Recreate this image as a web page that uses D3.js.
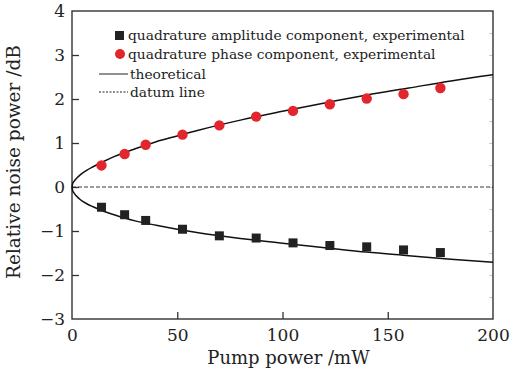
<!DOCTYPE html>
<html>
<head>
<meta charset="utf-8">
<script src="https://cdn.jsdelivr.net/npm/d3@7"></script>
<style>
  body { margin: 0; background: #fff; }
  text { font-family: "DejaVu Serif", serif; fill: #222; }
</style>
</head>
<body>
<div id="chart"></div>
<script>
// measured points
var pump = [14, 25, 35, 52.5, 70, 87.5, 105, 122.5, 140, 157.5, 175]
var amplitude = [-0.46, -0.63, -0.76, -0.96, -1.11, -1.16, -1.27, -1.33, -1.36, -1.43, -1.49]
var phase = [0.49, 0.75, 0.96, 1.19, 1.40, 1.60, 1.73, 1.88, 2.01, 2.11, 2.25]

// theoretical curves
var theoryX = [0, 0.3, 1, 2, 4, 7, 10, 15, 20, 30, 40, 50, 60, 80, 100, 120, 140, 160, 180, 200]
var theoryPhase = [0, 0.07, 0.13, 0.19, 0.28, 0.38, 0.46, 0.58, 0.69, 0.87, 1.03, 1.16, 1.29, 1.52, 1.72, 1.91, 2.09, 2.25, 2.41, 2.55]
var theoryAmp = [0, -0.08, -0.14, -0.2, -0.29, -0.38, -0.45, -0.55, -0.63, -0.77, -0.87, -0.96, -1.04, -1.17, -1.28, -1.38, -1.48, -1.56, -1.64, -1.71]

var xTicks = [0, 50, 100, 150, 200]
var yTicks = [-3, -2, -1, 0, 1, 2, 3, 4]

var legendLabels = ["quadrature amplitude component, experimental",
  "quadrature phase component, experimental", "theoretical", "datum line"]

var margin = {top: 11, right: 20, bottom: 53, left: 72},
  width = 513 - margin.left - margin.right,
  height = 372 - margin.top - margin.bottom;

var svg = d3.select("#chart")
  .append("svg")
    .attr("width", 513)
    .attr("height", 372)
  .append("g")
    .attr("transform", "translate(" + margin.left + "," + margin.top + ")");

var x = d3.scaleLinear().domain([0, 200]).range([0, width])
var y = d3.scaleLinear().domain([-3, 4]).range([height, 0])

var minus = function(d){ return d < 0 ? "\u2212" + Math.abs(d) : "" + d }

// faint minor ticks on the right border
svg.append("g")
  .attr("transform", "translate(" + width + ",0)")
  .call(d3.axisLeft(y).tickValues(d3.range(-2.5, 4, 0.5)).tickSize(4).tickFormat(""))
  .call(function(g){ g.select(".domain").remove() })
  .selectAll("line").attr("stroke", "#ccc")

// box
svg.append("rect")
  .attr("width", width).attr("height", height)
  .attr("fill", "none").attr("stroke", "#333").attr("stroke-width", 1.4)

var xAxis = svg.append("g")
  .attr("transform", "translate(0," + height + ")")
  .call(d3.axisBottom(x).tickValues(xTicks).tickSizeInner(-7).tickSizeOuter(0).tickPadding(6))
xAxis.select(".domain").remove()
xAxis.selectAll("line").attr("stroke", "#333").attr("stroke-width", 1.3)
  .filter(function(d){ return d == 0 || d == 200 }).remove()
xAxis.selectAll("text").style("font-size", "17px").attr("dy", "0.95em").attr("fill", "#222")

var yAxis = svg.append("g")
  .call(d3.axisLeft(y).tickValues(yTicks).tickSizeInner(-7).tickSizeOuter(0).tickPadding(7).tickFormat(minus))
yAxis.select(".domain").remove()
yAxis.selectAll("line").attr("stroke", "#333").attr("stroke-width", 1.3)
  .filter(function(d){ return d == -3 || d == 4 }).remove()
yAxis.selectAll("text").style("font-size", "17px").attr("fill", "#222")

// datum line
svg.append("line")
  .attr("x1", 0).attr("x2", width).attr("y1", y(0)).attr("y2", y(0))
  .attr("stroke", "#222").attr("stroke-width", 0.9).attr("stroke-dasharray", "4,2")

var line = d3.line()
  .x(function(d){ return x(d[0]) })
  .y(function(d){ return y(d[1]) })
  .curve(d3.curveMonotoneX)

svg.append("path")
  .datum(theoryX.map(function(v, i){ return [v, theoryPhase[i]] }))
  .attr("d", line).attr("fill", "none").attr("stroke", "#111").attr("stroke-width", 1.5)
svg.append("path")
  .datum(theoryX.map(function(v, i){ return [v, theoryAmp[i]] }))
  .attr("d", line).attr("fill", "none").attr("stroke", "#111").attr("stroke-width", 1.5)

svg.selectAll("mySquare")
  .data(pump.map(function(v, i){ return [v, amplitude[i]] }))
  .enter()
  .append("rect")
    .attr("x", function(d){ return x(d[0]) - 4.5 })
    .attr("y", function(d){ return y(d[1]) - 4.5 })
    .attr("width", 9).attr("height", 9)
    .attr("fill", "#222")

svg.selectAll("myDot")
  .data(pump.map(function(v, i){ return [v, phase[i]] }))
  .enter()
  .append("circle")
    .attr("cx", function(d){ return x(d[0]) })
    .attr("cy", function(d){ return y(d[1]) })
    .attr("r", 5.2)
    .attr("fill", "#e3262d")

// legend
var lg = svg.append("g")
lg.append("rect").attr("x", 43).attr("y", 20).attr("width", 9).attr("height", 9).attr("fill", "#222")
lg.append("circle").attr("cx", 48).attr("cy", 43).attr("r", 5).attr("fill", "#e3262d")
lg.append("line").attr("x1", 27).attr("x2", 56).attr("y1", 63).attr("y2", 63)
  .attr("stroke", "#222").attr("stroke-width", 1)
lg.append("line").attr("x1", 27).attr("x2", 56).attr("y1", 81).attr("y2", 81)
  .attr("stroke", "#222").attr("stroke-width", 1).attr("stroke-dasharray", "2,1.5")
var legendX = [56, 56, 58, 58]
var legendY = [29, 48, 68, 86]
lg.selectAll("myLegend")
  .data(legendLabels).enter()
  .append("text")
    .attr("x", function(d, i){ return legendX[i] })
    .attr("y", function(d, i){ return legendY[i] })
    .style("font-size", "13.8px")
    .text(function(d){ return d })

// axis titles
svg.append("text")
  .attr("x", width / 2 + 6).attr("y", height + 45)
  .style("text-anchor", "middle").style("font-size", "18px")
  .text("Pump power /mW")

svg.append("text")
  .attr("transform", "translate(-52," + (height / 2 - 3) + ") rotate(-90)")
  .style("text-anchor", "middle").style("font-size", "18.5px")
  .text("Relative noise power /dB")
</script>
</body>
</html>
